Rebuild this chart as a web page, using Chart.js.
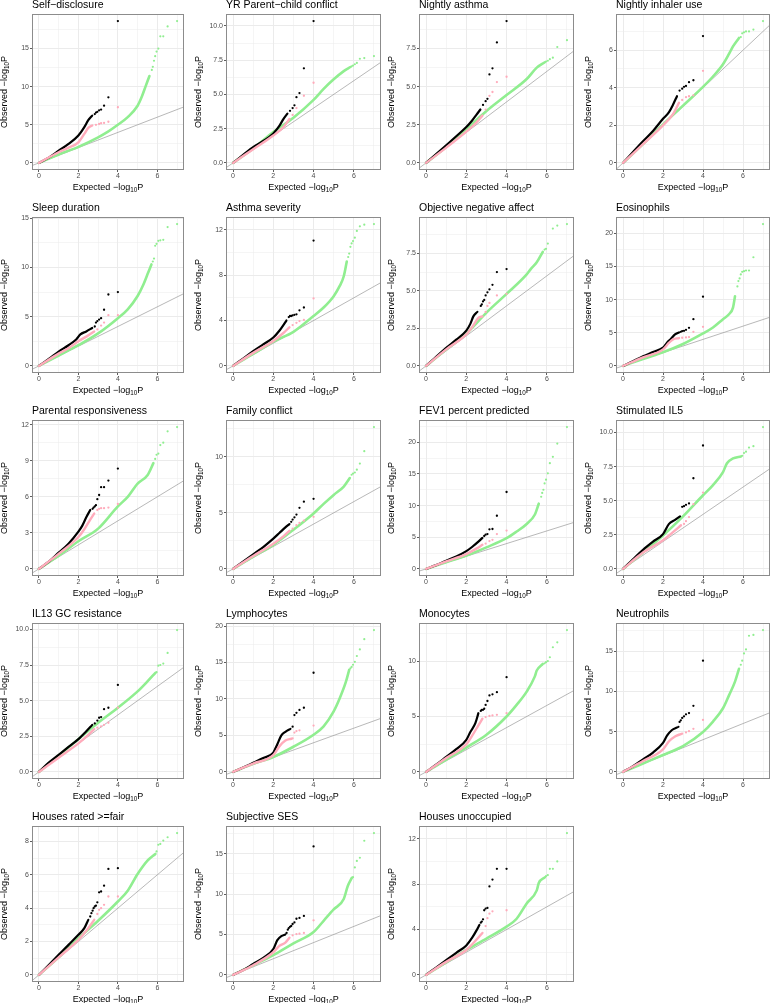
<!DOCTYPE html>
<html>
<head>
<meta charset="utf-8">
<script src="https://cdn.jsdelivr.net/npm/chart.js@4.4.1/dist/chart.umd.min.js"></script>
<style>
html, body { margin: 0; padding: 0; background: #fff; }
#page { position: relative; width: 774px; height: 1003px; overflow: hidden; }
#page canvas { position: absolute; }
</style>
</head>
<body>
<div id="page"></div>
<script>
const titles = [
  "Self\u2212disclosure", "YR Parent\u2212child conflict", "Nightly asthma", "Nightly inhaler use",
  "Sleep duration", "Asthma severity", "Objective negative affect", "Eosinophils",
  "Parental responsiveness", "Family conflict", "FEV1 percent predicted", "Stimulated IL5",
  "IL13 GC resistance", "Lymphocytes", "Monocytes", "Neutrophils",
  "Houses rated >=fair", "Subjective SES", "Houses unoccupied"
];

// y axis breaks per panel
const yStep = [5, 2.5, 2.5, 2, 5, 4, 2.5, 5, 3, 5, 5, 2.5, 2.5, 5, 5, 5, 2, 5, 4];
const yDigits = [0, 1, 1, 0, 0, 0, 1, 0, 0, 0, 0, 1, 1, 0, 0, 0, 0, 0, 0];
const xTickValues = [0, 1, 2, 3, 4, 5, 6, 7];
const xMajor = [0, 2, 4, 6];

// dense part of each QQ curve (expected, observed)
const blackCurve = [
  [[0,0],[0.5,0.7],[1,1.6],[1.5,2.5],[2,3.6],[2.3,4.7],[2.5,5.6],[2.7,6.2]],
  [[0,0],[1,1.15],[1.5,1.6],[2,2.15],[2.3,2.7],[2.5,3.2],[2.7,3.6]],
  [[0,0],[1,1.15],[1.5,1.75],[2,2.35],[2.3,2.8],[2.5,3.15],[2.7,3.5]],
  [[0,0],[1,1.15],[1.5,1.7],[2,2.35],[2.3,2.7],[2.5,3.1],[2.7,3.55]],
  [[0,0],[0.5,0.7],[1,1.45],[1.5,2.1],[1.9,2.7],[2.1,3.2],[2.4,3.5],[2.7,3.85]],
  [[0,0],[0.5,0.65],[1,1.3],[1.5,1.9],[2,2.5],[2.3,3.1],[2.5,3.6],[2.65,4.0]],
  [[0,0],[0.5,0.6],[1,1.2],[1.5,1.75],[2,2.35],[2.2,2.8],[2.35,3.3],[2.55,3.6]],
  [[0,0],[0.5,0.7],[1,1.45],[1.5,2.1],[2,2.75],[2.2,3.5],[2.4,4.1],[2.6,4.75],[2.8,5.05]],
  [[0,0],[0.5,0.6],[1,1.35],[1.5,2.1],[2,3.1],[2.2,3.6],[2.4,4.3],[2.6,4.9]],
  [[0,0],[1,1.3],[1.5,1.95],[2,2.7],[2.3,3.2],[2.6,3.7],[2.8,4.0]],
  [[0,0],[0.5,0.6],[1,1.3],[1.5,1.95],[2,2.8],[2.3,3.5],[2.6,4.3],[2.8,4.9]],
  [[0,0],[0.5,0.7],[1,1.4],[1.5,2.0],[2,2.55],[2.3,3.3],[2.6,3.6],[2.85,3.85]],
  [[0,0],[0.5,0.65],[1,1.2],[1.5,1.75],[2,2.3],[2.4,2.85],[2.7,3.3]],
  [[0,0],[0.5,0.6],[1,1.25],[1.5,1.9],[2,2.65],[2.2,3.8],[2.4,5.0],[2.6,5.5],[2.85,5.9]],
  [[0,0],[0.5,0.65],[1,1.35],[1.5,2.05],[2,2.9],[2.2,3.6],[2.45,4.4],[2.6,5.3]],
  [[0,0],[0.5,0.7],[1,1.55],[1.5,2.4],[2,3.6],[2.2,4.5],[2.45,5.2],[2.7,5.5]],
  [[0,0],[0.5,0.6],[1,1.2],[1.5,1.8],[2,2.4],[2.3,2.8],[2.5,3.3]],
  [[0,0],[0.5,0.6],[1,1.35],[1.5,2.1],[2,3.2],[2.2,4.3],[2.4,4.8],[2.6,5.0]],
  [[0,0],[0.5,0.65],[1,1.3],[1.5,1.95],[2,2.6],[2.3,3.3],[2.5,3.9],[2.65,4.4]]
];
const blackTail = [
  [[2.83,6.4],[2.89,6.6],[2.96,6.7],[3.05,6.9],[3.15,7.0],[3.3,7.5],[3.52,8.6],[4,18.6]],
  [[2.83,3.8],[2.96,4.0],[3.05,4.2],[3.15,4.8],[3.3,5.1],[3.52,6.9],[4,10.35]],
  [[2.83,3.8],[2.96,4.05],[3.05,4.2],[3.15,5.8],[3.3,6.2],[3.52,7.9],[4,9.3]],
  [[2.83,3.85],[2.96,3.95],[3.05,4.05],[3.15,4.1],[3.3,4.3],[3.52,4.4],[4,6.75]],
  [[2.83,4.0],[2.89,4.4],[2.96,4.55],[3.05,4.7],[3.15,4.85],[3.3,5.7],[3.52,7.25],[4,7.5]],
  [[2.77,4.3],[2.83,4.4],[2.89,4.4],[2.96,4.45],[3.05,4.5],[3.15,4.55],[3.3,4.9],[3.52,5.15],[4,11.05]],
  [[2.72,4.0],[2.77,4.1],[2.83,4.3],[2.89,4.4],[2.96,4.7],[3.05,4.9],[3.15,5.1],[3.3,5.4],[3.52,6.25],[4,6.45]],
  [[2.89,5.15],[2.96,5.25],[3.05,5.3],[3.15,5.45],[3.3,5.75],[3.52,7.05],[4,10.45]],
  [[2.72,5.0],[2.77,5.1],[2.83,5.2],[2.89,5.3],[2.96,5.8],[3.05,6.15],[3.15,6.8],[3.3,6.8],[3.52,7.35],[4,8.35]],
  [[2.89,4.2],[2.96,4.4],[3.05,4.6],[3.15,4.85],[3.3,5.45],[3.52,6.0],[4,6.25]],
  [[2.89,5.2],[2.96,5.4],[3.05,5.5],[3.15,6.25],[3.3,6.3],[3.52,8.4],[4,12.15]],
  [[2.96,4.55],[3.05,4.6],[3.15,4.7],[3.3,4.8],[3.52,6.65],[4,9.05]],
  [[2.83,3.4],[2.96,3.6],[3.05,3.8],[3.15,3.85],[3.3,4.4],[3.52,4.5],[4,6.1]],
  [[2.96,6.2],[3.05,7.8],[3.15,8.1],[3.3,8.5],[3.52,8.8],[4,13.6]],
  [[2.72,5.5],[2.77,5.6],[2.83,5.6],[2.89,5.7],[2.96,6.05],[3.05,6.4],[3.15,6.9],[3.3,7.0],[3.52,7.2],[4,8.55]],
  [[2.77,5.6],[2.83,6.2],[2.89,6.4],[2.96,6.7],[3.05,6.9],[3.15,7.15],[3.3,7.3],[3.52,8.2],[4,13.8]],
  [[2.6,3.5],[2.66,3.7],[2.72,3.85],[2.77,4.0],[2.83,4.1],[2.89,4.15],[2.96,4.35],[3.05,4.95],[3.15,5.0],[3.3,5.35],[3.52,6.35],[4,6.4]],
  [[2.66,5.2],[2.72,5.6],[2.77,5.8],[2.83,5.95],[2.89,6.05],[2.96,6.3],[3.05,6.5],[3.15,6.95],[3.3,7.05],[3.52,7.3],[4,15.9]],
  [[2.72,4.6],[2.77,4.7],[2.83,4.9],[2.89,5.7],[2.96,5.85],[3.05,5.9],[3.15,7.8],[3.3,8.4],[3.52,9.35],[4,9.35]]
];

const pinkCurve = [
  [[0,0],[1,1.4],[1.5,2.0],[2,2.7],[2.3,3.8],[2.5,4.6],[2.7,4.9]],
  [[0,0],[1,1.0],[2,2.0],[2.5,2.6],[2.8,3.2]],
  [[0,0],[1,1.0],[2,2.05],[2.5,2.65],[2.8,3.1]],
  [[0,0],[1,1.0],[2,2.0],[2.5,2.6],[2.8,3.2]],
  [[0,0],[1,1.25],[1.5,1.8],[2,2.5],[2.5,3.1],[2.8,3.5]],
  [[0,0],[1,1.15],[2,2.2],[2.5,2.9],[2.8,3.4]],
  [[0,0],[1,1.1],[2,2.1],[2.3,2.6],[2.6,3.2],[2.8,3.3]],
  [[0,0],[1,1.3],[2,2.5],[2.3,3.5],[2.5,4.0],[2.8,4.2]],
  [[0,0],[1,1.25],[2,2.65],[2.3,3.3],[2.6,4.1],[2.8,4.6]],
  [[0,0],[1,1.15],[2,2.25],[2.5,2.9],[2.8,3.4]],
  [[0,0],[1,1.2],[2,2.35],[2.5,3.2],[2.8,3.8]],
  [[0,0],[1,1.2],[2,2.1],[2.5,2.7],[2.9,3.2]],
  [[0,0],[1,1.0],[2,2.0],[2.5,2.6],[2.8,3.0]],
  [[0,0],[1,1.15],[2,2.3],[2.3,3.5],[2.6,4.3],[2.9,4.55]],
  [[0,0],[1,1.25],[2,2.5],[2.3,3.3],[2.6,4.2],[2.8,4.8]],
  [[0,0],[1,1.35],[2,2.8],[2.3,3.8],[2.6,4.4],[2.9,4.7]],
  [[0,0],[1,1.05],[2,2.1],[2.5,2.8],[2.8,3.3]],
  [[0,0],[1,1.2],[2,2.8],[2.3,3.6],[2.6,4.0],[2.8,4.6]],
  [[0,0],[1,1.15],[2,2.2],[2.4,2.9],[2.8,3.7]]
];
const pinkTail = [
  [[2.89,5.0],[3.05,5.1],[3.15,5.2],[3.3,5.25],[3.52,5.4],[4,7.3]],
  [[2.96,3.5],[3.15,4.0],[3.52,4.9],[4,5.85]],
  [[2.96,3.5],[3.15,4.4],[3.3,4.65],[3.52,5.3],[4,5.65]],
  [[2.96,3.35],[3.15,3.5],[3.3,3.55],[3.52,3.6],[4,4.9]],
  [[2.96,3.7],[3.15,4.1],[3.3,4.4],[3.52,5.15],[4,5.15]],
  [[2.96,3.6],[3.15,3.8],[3.3,3.95],[3.52,4.05],[4,5.95]],
  [[2.96,3.6],[3.05,4.0],[3.15,4.2],[3.52,4.7],[4,4.8]],
  [[2.96,4.25],[3.15,4.3],[3.3,4.35],[3.52,5.15],[4,5.9]],
  [[2.96,4.9],[3.05,5.0],[3.15,5.05],[3.3,5.05],[3.52,5.1],[4,5.4]],
  [[2.96,3.6],[3.15,3.9],[3.3,4.1],[3.52,4.3],[4,4.65]],
  [[2.96,4.0],[3.15,4.4],[3.3,4.6],[3.52,5.5],[4,6.05]],
  [[3.05,3.3],[3.15,3.5],[3.3,3.8],[3.52,4.75],[4,5.6]],
  [[2.96,3.1],[3.15,3.2],[3.3,3.3],[3.52,3.45],[4,4.5]],
  [[2.96,4.6],[3.05,5.4],[3.15,5.6],[3.3,5.7],[4,6.35]],
  [[2.96,4.95],[3.15,5.05],[3.3,5.1],[3.52,5.15],[4,5.3]],
  [[2.96,4.75],[3.15,4.9],[3.3,5.05],[3.52,5.35],[4,6.45]],
  [[2.96,3.65],[3.05,3.9],[3.15,4.0],[3.3,4.2],[3.52,4.7],[4,4.7]],
  [[2.96,4.9],[3.15,5.05],[3.3,5.1],[3.52,5.2],[4,6.75]],
  [[2.96,4.3],[3.05,5.0],[3.15,5.4],[3.3,5.6],[4,5.7]]
];

const greenCurve = [
  [[0,0],[1,1.1],[2,2.1],[3,3.35],[3.5,4.1],[4,5.0],[4.5,6.0],[5,7.5],[5.2,8.6],[5.4,10.0],[5.6,11.4]],
  [[0,0],[1,1.05],[2,2.25],[3,3.3],[4,4.6],[4.5,5.4],[5,6.1],[5.5,6.7],[5.83,7.0]],
  [[0,0],[1,1.05],[2,2.2],[3,3.4],[4,4.45],[5,5.5],[5.5,6.25],[5.9,6.6]],
  [[0,0],[1,1.0],[2,2.05],[3,3.05],[4,4.05],[4.5,4.6],[5,5.25],[5.3,5.8],[5.5,6.2],[5.8,6.65]],
  [[0,0],[1,1.05],[2,2.1],[3,3.3],[4,4.85],[4.5,5.75],[5,7.1],[5.3,8.3],[5.5,9.3],[5.7,10.3]],
  [[0,0],[1,1.05],[2,2.15],[3,3.0],[4,4.4],[4.5,5.15],[5,6.15],[5.3,7.05],[5.5,7.9],[5.65,9.2]],
  [[0,0],[1,1.1],[2,2.15],[3,3.55],[4,4.8],[5,6.1],[5.2,6.45],[5.5,6.9],[5.8,7.6]],
  [[0,0],[1,1.05],[2,2.05],[3,3.3],[4,4.9],[4.5,5.8],[5,7.05],[5.3,7.8],[5.5,8.8],[5.6,10.5]],
  [[0,0],[1,1.1],[2,2.3],[3,3.35],[4,5.2],[4.5,6.0],[5,7.1],[5.5,7.8],[5.8,8.8]],
  [[0,0],[1,1.1],[2,2.15],[3,3.5],[4,4.95],[4.5,5.8],[5,6.6],[5.5,7.35],[5.8,8.1]],
  [[0,0],[1,1.05],[2,2.1],[3,3.4],[4,4.85],[4.5,5.9],[5,7.1],[5.4,8.55],[5.6,10.3]],
  [[0,0],[1,1.2],[2,2.45],[3,3.85],[4,5.4],[4.5,6.15],[5,7.1],[5.2,7.75],[5.5,8.1],[5.9,8.25]],
  [[0,0],[1,1.15],[2,2.3],[3,3.45],[4,4.5],[5,5.65],[5.5,6.35],[5.9,6.95]],
  [[0,0],[1,1.1],[2,2.05],[3,3.45],[4,5.1],[4.5,6.25],[5,8.3],[5.3,10.1],[5.6,12.3],[5.77,14.0]],
  [[0,0],[1,1.1],[2,2.2],[3,3.35],[4,5.0],[4.5,6.05],[5,7.25],[5.4,8.6],[5.5,9.15],[5.8,9.75]],
  [[0,0],[1,1.05],[2,2.1],[3,3.2],[4,4.95],[4.5,6.25],[5,7.9],[5.3,9.5],[5.6,11.2],[5.8,12.8]],
  [[0,0],[1,1.05],[2,2.2],[3,3.25],[4,4.4],[4.5,5.05],[5,6.05],[5.5,6.85],[5.9,7.25]],
  [[0,0],[1,1.2],[2,2.45],[3,3.9],[4,5.3],[4.5,6.7],[5,8.1],[5.5,9.4],[5.7,11.0],[5.9,12.0]],
  [[0,0],[1,1.1],[2,2.2],[3,3.2],[4,4.25],[4.5,4.95],[5,6.3],[5.5,7.45],[5.6,8.1],[5.9,8.6]]
];
const greenTail = [
  [[5.72,12.2],[5.77,12.6],[5.83,13.4],[5.89,14.0],[5.96,14.6],[6.05,15.0],[6.15,16.6],[6.3,16.6],[6.52,17.9],[7,18.6]],
  [[5.89,7.05],[5.96,7.1],[6.05,7.2],[6.15,7.3],[6.3,7.6],[6.52,7.65],[7,7.8]],
  [[5.96,6.65],[6.05,6.7],[6.15,6.8],[6.3,6.9],[6.52,7.6],[7,8.05]],
  [[5.89,6.7],[5.96,6.9],[6.05,6.95],[6.15,7.0],[6.3,7.0],[6.52,7.1],[7,7.55]],
  [[5.77,10.6],[5.83,10.9],[5.89,12.2],[5.96,12.4],[6.05,12.7],[6.15,12.75],[6.3,12.8],[6.52,14.1],[7,14.4]],
  [[5.72,9.6],[5.77,9.9],[5.83,10.5],[5.89,10.8],[5.96,11.0],[6.05,11.3],[6.15,11.9],[6.3,12.3],[6.52,12.45],[7,12.5]],
  [[5.89,7.75],[5.96,7.8],[6.05,8.15],[6.3,9.15],[6.52,9.35],[7,9.45]],
  [[5.72,12.0],[5.77,12.8],[5.83,13.2],[5.89,13.8],[5.96,14.2],[6.05,14.3],[6.15,14.4],[6.3,14.4],[6.52,16.4],[7,21.4]],
  [[5.89,9.15],[5.96,9.5],[6.05,9.6],[6.15,10.3],[6.3,10.5],[6.52,11.45],[7,11.8]],
  [[5.89,8.4],[5.96,8.5],[6.05,8.6],[6.15,8.85],[6.3,9.4],[6.52,10.5],[7,12.65]],
  [[5.72,11.4],[5.77,12.0],[5.83,12.5],[5.89,13.5],[5.96,14.1],[6.05,15.1],[6.15,16.7],[6.3,17.7],[6.52,19.8],[7,22.4]],
  [[5.96,8.3],[6.05,8.5],[6.15,8.6],[6.3,8.9],[6.52,9.0],[7,10.4]],
  [[5.96,7.0],[6.05,7.45],[6.15,7.5],[6.3,7.6],[6.52,8.35],[7,9.95]],
  [[5.83,14.2],[5.89,14.4],[5.96,14.7],[6.05,15.1],[6.15,15.9],[6.3,16.8],[6.52,18.2],[7,19.45]],
  [[5.89,9.8],[5.96,9.9],[6.05,10.0],[6.15,10.35],[6.3,11.25],[6.52,11.7],[7,12.8]],
  [[5.89,13.3],[5.96,13.8],[6.05,14.7],[6.15,15.2],[6.3,16.9],[6.52,17.0],[7,17.6]],
  [[5.96,7.4],[6.05,7.8],[6.15,7.85],[6.3,8.05],[6.52,8.25],[7,8.5]],
  [[5.96,12.1],[6.05,13.3],[6.15,14.1],[6.3,14.5],[6.52,16.6],[7,17.55]],
  [[5.96,8.7],[6.05,8.8],[6.15,9.35],[6.3,9.35],[6.52,10.0],[7,12.5]]
];

// reference line y = x across the x range
const diagLine = [[-0.35, -0.35], [7.35, 7.35]];

// layout of the panel grid (page pixels)
const colLeft = [32, 226, 419, 616];
const colRight = [187, 384, 577, 773];
const rowTop = [14, 217, 420, 623, 826];
const plotH = 156;
const padL = 10, yAxisW = 24, padT = 16, xAxisH = 14, padB = 12;

const BLACK = "#000000", PINK = "#FFABBB", GREEN = "#90EE90";
const FONT = '"Liberation Sans", Arial, Helvetica, sans-serif';
const tickFont = { family: FONT, size: 7 };

function isMajor(v, step) {
  const k = v / step;
  return Math.abs(k - Math.round(k)) < 1e-6;
}

function drawLogTitle(ctx, lead, cx, cy) {
  const big = "9px " + FONT, small = "6.3px " + FONT;
  const s1 = lead + " \u2212log", s2 = "10", s3 = "P";
  ctx.font = big;
  const w1 = ctx.measureText(s1).width, w3 = ctx.measureText(s3).width;
  ctx.font = small;
  const w2 = ctx.measureText(s2).width;
  let x = cx - (w1 + w2 + w3) / 2;
  ctx.textAlign = "left";
  ctx.textBaseline = "alphabetic";
  ctx.font = big; ctx.fillText(s1, x, cy); x += w1;
  ctx.font = small; ctx.fillText(s2, x, cy + 2.4); x += w2;
  ctx.font = big; ctx.fillText(s3, x, cy);
}

const panelDecor = {
  id: "panelDecor",
  afterDraw(chart, args, opts) {
    const { ctx, chartArea: a } = chart;
    ctx.save();
    ctx.strokeStyle = "#8c8c8c";
    ctx.lineWidth = 1;
    ctx.strokeRect(Math.round(a.left) + 0.5, Math.round(a.top) + 0.5,
      Math.round(a.right - a.left) - 1, Math.round(a.bottom - a.top) - 1);

    ctx.fillStyle = "#000";
    ctx.font = "10.5px " + FONT;
    ctx.textAlign = "left";
    ctx.textBaseline = "alphabetic";
    ctx.fillText(opts.title, a.left, a.top - 6);

    drawLogTitle(ctx, "Expected", (a.left + a.right) / 2, a.bottom + 19.5);

    ctx.translate(a.left - 25, (a.top + a.bottom) / 2);
    ctx.rotate(-Math.PI / 2);
    drawLogTitle(ctx, "Observed", 0, 0);
    ctx.restore();
  }
};

const page = document.getElementById("page");

titles.forEach((title, i) => {
  const r = Math.floor(i / 4), c = i % 4;
  const w = colRight[c] - colLeft[c];
  const W = padL + yAxisW + w + 1;
  const H = padT + plotH + xAxisH + padB;
  const cv = document.createElement("canvas");
  cv.width = W; cv.height = H;
  cv.style.width = W + "px"; cv.style.height = H + "px";
  cv.style.left = (colLeft[c] - padL - yAxisW) + "px";
  cv.style.top = (rowTop[r] - padT) + "px";
  page.appendChild(cv);

  const all = [].concat(blackCurve[i], blackTail[i], pinkCurve[i], pinkTail[i], greenCurve[i], greenTail[i]);
  const top = Math.max(...all.map(p => p[1]));
  const yMin = -0.05 * top, yMax = 1.05 * top;
  const step = yStep[i], half = step / 2;
  const yTicks = [];
  for (let v = Math.ceil(yMin / half) * half; v <= yMax + 1e-9; v += half) yTicks.push(+v.toFixed(6));

  const gridOpts = (majorFn) => ({
    color: "#EBEBEB",
    lineWidth: ctx => (ctx.tick && majorFn(ctx.tick.value)) ? 1 : 0.5,
    tickColor: ctx => (ctx.tick && majorFn(ctx.tick.value)) ? "#333333" : "rgba(0,0,0,0)",
    tickLength: 2,
    tickWidth: 0.8
  });

  new Chart(cv, {
    type: "scatter",
    data: {
      datasets: [
        { data: pinkTail[i], showLine: false, pointRadius: 1.15, backgroundColor: PINK, borderWidth: 0, order: 1 },
        { data: pinkCurve[i], showLine: true, pointRadius: 0, borderColor: PINK, borderWidth: 2.4,
          borderCapStyle: "round", borderJoinStyle: "round", cubicInterpolationMode: "monotone", order: 1 },
        { data: blackTail[i], showLine: false, pointRadius: 1.15, backgroundColor: BLACK, borderWidth: 0, order: 2 },
        { data: blackCurve[i], showLine: true, pointRadius: 0, borderColor: BLACK, borderWidth: 2.2,
          borderCapStyle: "round", borderJoinStyle: "round", cubicInterpolationMode: "monotone", order: 2 },
        { data: greenTail[i], showLine: false, pointRadius: 1.1, backgroundColor: GREEN, borderWidth: 0, order: 3 },
        { data: greenCurve[i], showLine: true, pointRadius: 0, borderColor: GREEN, borderWidth: 2.6,
          borderCapStyle: "round", borderJoinStyle: "round", cubicInterpolationMode: "monotone", order: 3 },
        { data: diagLine, showLine: true, pointRadius: 0, borderColor: "#9a9a9a", borderWidth: 0.7, order: 4 }
      ]
    },
    options: {
      responsive: false,
      animation: false,
      events: [],
      devicePixelRatio: 1,
      layout: { padding: { left: padL, right: 1, top: padT, bottom: padB } },
      plugins: {
        legend: { display: false },
        tooltip: { enabled: false },
        panelDecor: { title: title }
      },
      scales: {
        x: {
          type: "linear", min: -0.35, max: 7.35,
          afterBuildTicks: ax => { ax.ticks = xTickValues.map(v => ({ value: v })); },
          afterFit: ax => { ax.height = xAxisH; },
          ticks: { autoSkip: false, maxRotation: 0, padding: 0, font: tickFont, color: "#4D4D4D",
            callback: v => xMajor.includes(v) ? String(v) : "" },
          grid: gridOpts(v => xMajor.includes(v)),
          border: { display: false }
        },
        y: {
          type: "linear", min: yMin, max: yMax,
          afterBuildTicks: ax => { ax.ticks = yTicks.map(v => ({ value: v })); },
          afterFit: ax => { ax.width = yAxisW; },
          ticks: { autoSkip: false, padding: 1, font: tickFont, color: "#4D4D4D",
            callback: v => isMajor(v, step) ? v.toFixed(yDigits[i]) : "" },
          grid: gridOpts(v => isMajor(v, step)),
          border: { display: false }
        }
      }
    },
    plugins: [panelDecor]
  });
});
</script>
</body>
</html>
